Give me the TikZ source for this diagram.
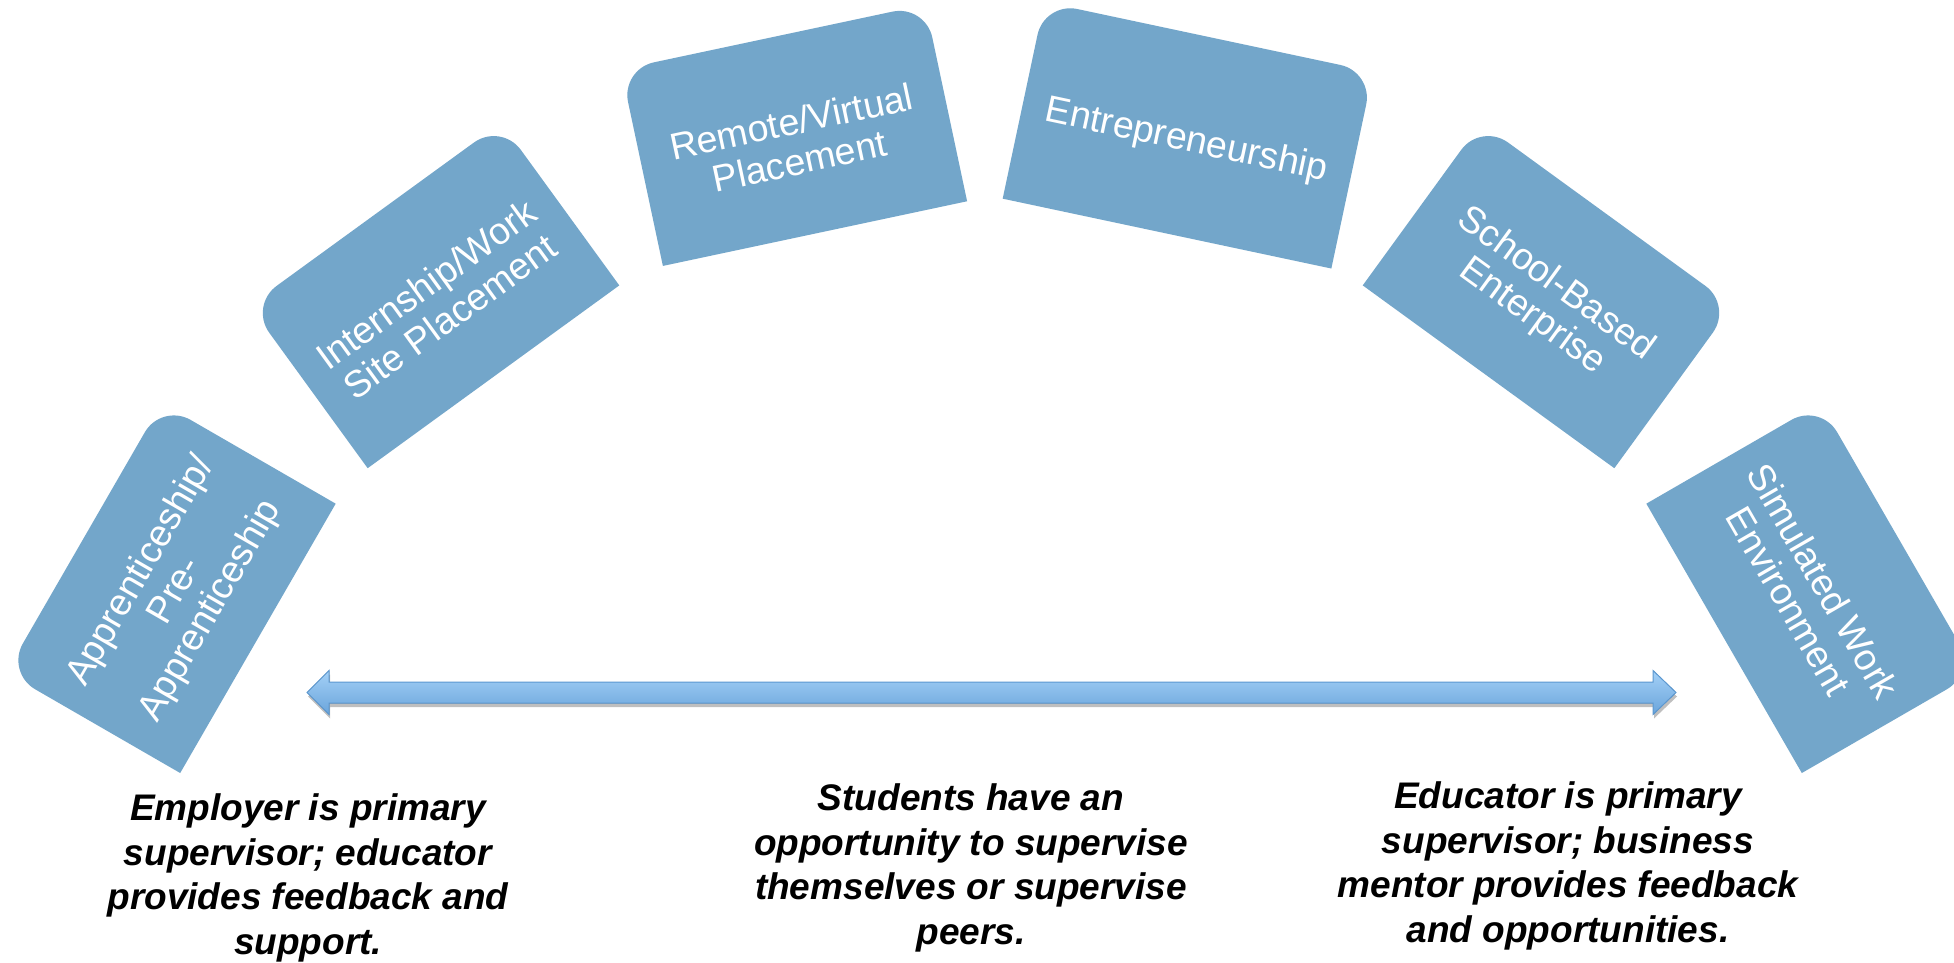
\documentclass[tikz,border=0pt]{standalone}
\usepackage{fontspec}
\setmainfont{Liberation Sans}
\usetikzlibrary{calc,shadows}
\definecolor{boxblue}{RGB}{115,166,202}
\definecolor{arrowtop}{RGB}{164,209,247}
\definecolor{arrowbot}{RGB}{106,165,219}
\definecolor{arrowline}{RGB}{92,152,208}
\newcommand{\roundtopbox}[4]{%
  \begin{scope}[shift={(#1,#2)},rotate=#3]
    \fill[boxblue] (-#4/2,-100.5) -- (-#4/2,67)
      arc[start angle=180,end angle=90,radius=33.5]
      -- (#4/2-33.5,100.5)
      arc[start angle=90,end angle=0,radius=33.5]
      -- (#4/2,-100.5) -- cycle;
  \end{scope}}
\tikzset{
  boxtext/.style={text=white, align=center, inner sep=0pt,
    font=\fontsize{37.5}{40}\selectfont},
  notetext/.style={text=black, align=center, inner sep=0pt, anchor=north,
    font=\fontsize{37}{44.5}\selectfont\bfseries\itshape},
  blockarrow/.style={top color=arrowtop, bottom color=arrowbot, draw=arrowline,
    line width=1pt, line join=miter,
    drop shadow={shadow xshift=1pt, shadow yshift=-4pt, opacity=0.25, fill=black}}
}
\begin{document}
\begin{tikzpicture}[x=1pt,y=1pt]
\useasboundingbox (0,0) rectangle (1954,962);
\fill[white] (0,0) rectangle (1954,962);
\clip (0,0) rectangle (1954,962);

% boxes on the arc
\roundtopbox{170.9}{373.9}{60}{311}
\roundtopbox{434.4}{666.5}{36}{311}
\roundtopbox{794.1}{826.7}{12}{311}
\roundtopbox{1187.9}{826.7}{-12}{336}
\roundtopbox{1547.6}{666.5}{-36}{311}
\roundtopbox{1811.1}{373.9}{-60}{311}

\node[boxtext, rotate=60] (appr) at (176.1,370.9) {Apprenticeship/\\Pre-\\Apprenticeship};
\node[boxtext, rotate=36] (intern) at (437.9,661.7) {Internship/Work\\Site Placement};
\node[boxtext, rotate=12] (remote) at (795.4,820.8) {Remote/Virtual\\Placement};
\node[boxtext, rotate=-12] (entre) at (1186.6,820.8) {Entrepreneurship};
\node[boxtext, rotate=-36] (school) at (1544.1,661.7) {School-Based\\Enterprise};
\node[boxtext, rotate=-60] (sim) at (1805.9,370.9) {Simulated Work\\Environment};

% double block arrow
\coordinate (aL) at (307,269.5);
\coordinate (aR) at (1676,269.5);
\filldraw[blockarrow] (aL) -- ($(aL)+(22,22)$) -- ($(aL)+(22,10.5)$)
  -- ($(aR)+(-23,10.5)$) -- ($(aR)+(-23,22)$) -- (aR)
  -- ($(aR)+(-23,-22)$) -- ($(aR)+(-23,-10.5)$)
  -- ($(aL)+(22,-10.5)$) -- ($(aL)+(22,-22)$) -- cycle;

% notes
\node[notetext] (n1) at (308,168.5) {Employer is primary\\supervisor; educator\\provides feedback and\\support.};
\node[notetext] (n2) at (971,178.5) {Students have an\\opportunity to supervise\\themselves or supervise\\peers.};
\node[notetext] (n3) at (1568,180.5) {Educator is primary\\supervisor; business\\mentor provides feedback\\and opportunities.};
\end{tikzpicture}
\end{document}
